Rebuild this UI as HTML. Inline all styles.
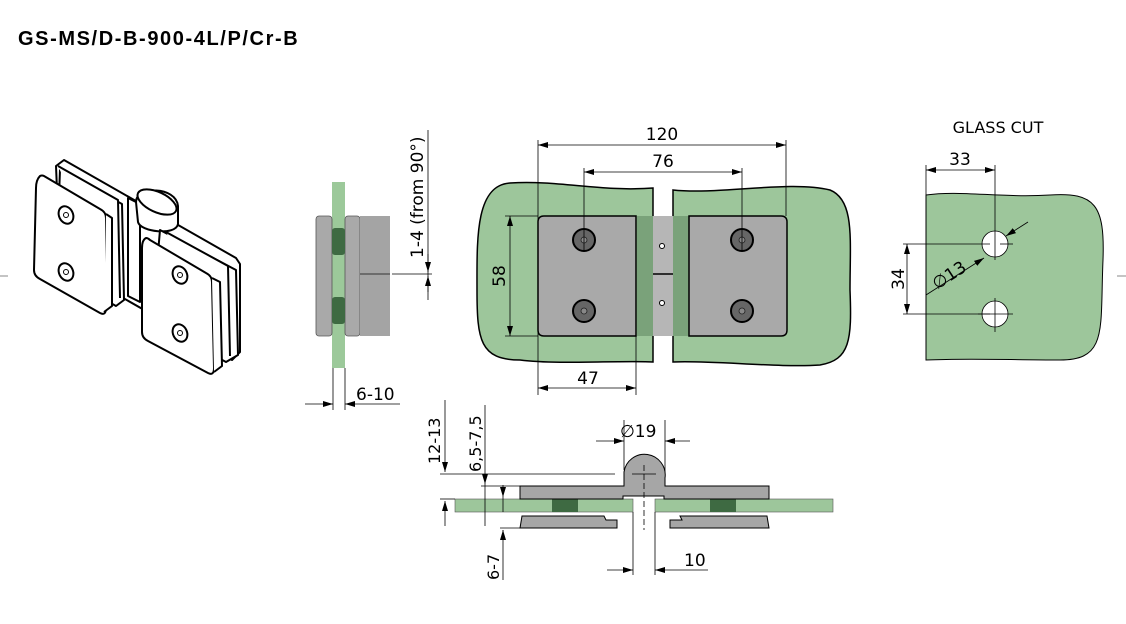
<!DOCTYPE html>
<html><head><meta charset="utf-8"><style>
html,body{margin:0;padding:0;background:#fff;}
svg{display:block;font-family:"DejaVu Sans","Liberation Sans",sans-serif;}
</style></head><body>
<svg width="1126" height="624" viewBox="0 0 1126 624" xmlns="http://www.w3.org/2000/svg">
<defs>
<marker id="a" viewBox="0 0 10 6" refX="10" refY="3" markerWidth="10" markerHeight="6" orient="auto-start-reverse" markerUnits="userSpaceOnUse"><path d="M0,0 L10,3 L0,6 z" fill="#000"/></marker>
</defs>
<text x="18" y="45" font-family="Liberation Sans, sans-serif" font-weight="bold" font-size="20" letter-spacing="1.6">GS-MS/D-B-900-4L/P/Cr-B</text>
<line x1="0" y1="276" x2="8" y2="276" stroke="#888" stroke-width="1"/>
<line x1="1117" y1="276" x2="1126" y2="276" stroke="#888" stroke-width="1"/>

<!-- isometric -->
<g fill="#fff" stroke="#000" stroke-width="2" stroke-linejoin="round">
<path d="M56,166 L64,160 L236,258 L240,264 L240,352 L232,360 L60,262 z"/>
<path d="M128,198 L140,204 L140,302 L128,296 z"/>
<path d="M136,202 C136,186 176,186 178,206 L178,224 C176,236 140,232 138,222 z"/>
<ellipse cx="157" cy="202" rx="21" ry="10" transform="rotate(25 157 202)"/>
<path d="M60,170 L122,204 L124,300 L116,306 L56,272 z"/>
<path d="M58,166 L118,200 L120,298"/>
<path d="M40,176 Q36,180 36,188 L34,270 Q34,276 40,279 L100,313 Q106,316 106,308 L106,218 Q106,212 100,209 L44,176 Q42,175 40,176 z"/>
<path d="M106,214 L112,218 L112,306 L104,312"/>
<path d="M160,230 L236,270 L238,355 L226,362 L152,322 z"/>
<path d="M166,232 L228,266 L230,356"/>
<path d="M146,238 Q142,240 142,248 L142,332 Q142,338 148,341 L208,373 Q214,376 214,368 L212,282 Q212,276 206,273 L150,240 Q148,238 146,238 z"/>
<path d="M212,278 L220,282 L222,366 L214,372"/>
<ellipse cx="66" cy="215" rx="7" ry="9" transform="rotate(-25 66 215)"/>
<ellipse cx="66" cy="272" rx="7" ry="9" transform="rotate(-25 66 272)"/>
<ellipse cx="180" cy="275" rx="7" ry="9" transform="rotate(-25 180 275)"/>
<ellipse cx="180" cy="333" rx="7" ry="9" transform="rotate(-25 180 333)"/>
</g>
<g fill="none" stroke="#000" stroke-width="1">
<circle cx="66" cy="215" r="2.5"/><circle cx="66" cy="272" r="2.5"/><circle cx="180" cy="275" r="2.5"/><circle cx="180" cy="333" r="2.5"/>
</g>

<!-- side view -->
<rect x="332" y="182" width="13" height="186" fill="#9cc99a"/>
<rect x="316" y="216" width="16" height="120" rx="3" fill="#a9a9a9" stroke="#555" stroke-width="0.8"/>
<rect x="345" y="216" width="15" height="120" rx="3" fill="#a9a9a9" stroke="#555" stroke-width="0.8"/>
<rect x="360" y="216" width="30" height="120" fill="#a4a4a4"/>
<line x1="360" y1="274" x2="390" y2="274" stroke="#333" stroke-width="1"/>
<rect x="332" y="228" width="13" height="27" rx="3" fill="#3e6a42"/>
<rect x="332" y="297" width="13" height="27" rx="3" fill="#3e6a42"/>
<g stroke="#000" stroke-width="0.8" fill="none">
<line x1="428" y1="130" x2="428" y2="300"/>
<line x1="392" y1="274" x2="432" y2="274"/>
<line x1="428" y1="254" x2="428" y2="272" marker-end="url(#a)"/>
<line x1="428" y1="292" x2="428" y2="276" marker-end="url(#a)"/>
<line x1="333" y1="368" x2="333" y2="410"/><line x1="345" y1="368" x2="345" y2="410"/>
<line x1="305" y1="404" x2="333" y2="404" marker-end="url(#a)"/>
<line x1="400" y1="404" x2="345" y2="404" marker-end="url(#a)"/>
</g>
<text x="423" y="258" font-size="17" transform="rotate(-90 423 258)">1-4 (from 90°)</text>
<text x="356" y="400" font-size="17">6-10</text>

<!-- top view -->
<path d="M653,217 L653,362 C620,360 560,365 520,360 C480,360 477,340 477,290 C477,240 475,185 510,183 C560,180 600,192 653,188 z" fill="#9dc69b" stroke="#000" stroke-width="1.5"/>
<path d="M673,217 L673,362 C710,360 780,368 820,365 C850,360 852,340 850,290 C850,240 855,200 830,190 C790,180 720,195 673,190 z" fill="#9dc69b" stroke="#000" stroke-width="1.5"/>
<rect x="637" y="216" width="52" height="120" fill="#7aa27a"/>
<rect x="653" y="216" width="20" height="120" fill="#b6b6b6"/>
<line x1="653" y1="274" x2="673" y2="274" stroke="#000" stroke-width="1.5"/>
<circle cx="662" cy="246" r="2.5" fill="#fff" stroke="#000"/>
<circle cx="662" cy="303" r="2.5" fill="#fff" stroke="#000"/>
<path d="M544,216 L636,216 L636,336 L544,336 Q538,336 538,330 L538,222 Q538,216 544,216 z" fill="#a9a9a9" stroke="#000" stroke-width="1.5"/>
<path d="M689,216 L781,216 Q787,216 787,222 L787,330 Q787,336 781,336 L689,336 z" fill="#a9a9a9" stroke="#000" stroke-width="1.5"/>
<g fill="#666" stroke="#000" stroke-width="2">
<circle cx="584" cy="240" r="11"/><circle cx="584" cy="311" r="11"/><circle cx="742" cy="240" r="11"/><circle cx="742" cy="311" r="11"/>
</g>
<g fill="#888" stroke="#222" stroke-width="0.8">
<circle cx="584" cy="240" r="3"/><circle cx="584" cy="311" r="3"/><circle cx="742" cy="240" r="3"/><circle cx="742" cy="311" r="3"/>
</g>
<g stroke="#000" stroke-width="0.8" fill="none">
<line x1="538" y1="140" x2="538" y2="395"/><line x1="786" y1="140" x2="786" y2="216"/>
<line x1="584" y1="168" x2="584" y2="250"/><line x1="742" y1="168" x2="742" y2="250"/>
<line x1="636" y1="336" x2="636" y2="395"/>
<line x1="505" y1="216" x2="538" y2="216"/><line x1="505" y1="336" x2="538" y2="336"/>
<line x1="538" y1="145" x2="786" y2="145" marker-start="url(#a)" marker-end="url(#a)"/>
<line x1="584" y1="172" x2="742" y2="172" marker-start="url(#a)" marker-end="url(#a)"/>
<line x1="510" y1="216" x2="510" y2="336" marker-start="url(#a)" marker-end="url(#a)"/>
<line x1="538" y1="388" x2="636" y2="388" marker-start="url(#a)" marker-end="url(#a)"/>
</g>
<text x="662" y="140" font-size="17" text-anchor="middle">120</text>
<text x="663" y="167" font-size="17" text-anchor="middle">76</text>
<text x="505" y="276" font-size="17" text-anchor="middle" transform="rotate(-90 505 276)">58</text>
<text x="588" y="384" font-size="17" text-anchor="middle">47</text>

<!-- glass cut -->
<text x="998" y="133" font-size="16" text-anchor="middle">GLASS CUT</text>
<path d="M926,195 C960,190 1000,198 1050,195 C1095,192 1105,205 1103,260 C1100,330 1108,360 1060,360 C1010,360 970,358 926,360 z" fill="#9dc69b" stroke="#000" stroke-width="1"/>
<circle cx="995" cy="244" r="13" fill="#fff" stroke="#000" stroke-width="0.8"/>
<circle cx="995" cy="314" r="13" fill="#fff" stroke="#000" stroke-width="0.8"/>
<g stroke="#000" stroke-width="0.8" fill="none">
<line x1="926" y1="165" x2="926" y2="195"/>
<line x1="995" y1="165" x2="995" y2="260"/>
<line x1="995" y1="298" x2="995" y2="332"/>
<line x1="978" y1="314" x2="1013" y2="314"/>
<line x1="1000" y1="244" x2="1013" y2="244"/>
<line x1="903" y1="244" x2="990" y2="244"/><line x1="903" y1="314" x2="990" y2="314"/>
<line x1="926" y1="170" x2="995" y2="170" marker-start="url(#a)" marker-end="url(#a)"/>
<line x1="907" y1="244" x2="907" y2="314" marker-start="url(#a)" marker-end="url(#a)"/>
<line x1="926" y1="295" x2="984" y2="258" marker-end="url(#a)"/>
<line x1="1028" y1="222" x2="1006" y2="236" marker-end="url(#a)"/>
</g>
<text x="960" y="165" font-size="17" text-anchor="middle">33</text>
<text x="904" y="279" font-size="17" text-anchor="middle" transform="rotate(-90 904 279)">34</text>
<text x="937" y="290" font-size="17" transform="rotate(-33 937 290)">∅13</text>

<!-- bottom section -->
<rect x="455" y="499" width="178" height="13" fill="#9dc69b" stroke="#555" stroke-width="0.6"/>
<rect x="655" y="499" width="178" height="13" fill="#9dc69b" stroke="#555" stroke-width="0.6"/>
<rect x="552" y="499" width="26" height="13" fill="#3e6a42"/>
<rect x="710" y="499" width="26" height="13" fill="#3e6a42"/>
<path d="M520,486 L624,486 L624,472 A20,20 0 1 1 665,478 L665,486 L769,486 L769,499 L664,499 L664,496 L623,496 L623,499 L520,499 z" fill="#a6a6a6" stroke="#000" stroke-width="1"/>
<path d="M522,516 L604,516 L606,520 L617,520 L617,528 L520,528 z" fill="#a6a6a6" stroke="#000" stroke-width="1"/>
<path d="M680,516 L767,516 L769,528 L670,528 L670,520 L682,520 z" fill="#a6a6a6" stroke="#000" stroke-width="1"/>
<g stroke="#000" stroke-width="0.8" fill="none">
<line x1="644" y1="465" x2="644" y2="530" stroke-dasharray="6,3"/>
<line x1="632" y1="474" x2="656" y2="474"/>
<line x1="624" y1="420" x2="624" y2="470"/><line x1="665" y1="420" x2="665" y2="472"/>
<line x1="596" y1="441" x2="624" y2="441" marker-end="url(#a)"/>
<line x1="690" y1="441" x2="665" y2="441" marker-end="url(#a)"/>
<line x1="440" y1="474" x2="615" y2="474"/>
<line x1="445" y1="400" x2="445" y2="472" marker-end="url(#a)"/>
<line x1="445" y1="526" x2="445" y2="501" marker-end="url(#a)"/>
<line x1="440" y1="499" x2="455" y2="499"/>
<line x1="485" y1="405" x2="485" y2="484" marker-end="url(#a)"/>
<line x1="485" y1="484" x2="485" y2="526"/>
<line x1="481" y1="486" x2="520" y2="486"/>
<line x1="503" y1="485" x2="503" y2="497" marker-end="url(#a)"/>
<line x1="503" y1="497" x2="503" y2="512"/>
<line x1="503" y1="540" x2="503" y2="530" marker-end="url(#a)"/>
<line x1="503" y1="530" x2="503" y2="580"/>
<line x1="500" y1="528" x2="520" y2="528"/>
<line x1="633" y1="512" x2="633" y2="575"/><line x1="655" y1="512" x2="655" y2="575"/>
<line x1="607" y1="570" x2="633" y2="570" marker-end="url(#a)"/>
<line x1="708" y1="570" x2="655" y2="570" marker-end="url(#a)"/>
</g>
<text x="620" y="437" font-size="17">∅19</text>
<text x="440" y="464" font-size="16" transform="rotate(-90 440 464)">12-13</text>
<text x="481" y="472" font-size="16" transform="rotate(-90 481 472)">6,5-7,5</text>
<text x="499" y="580" font-size="16" transform="rotate(-90 499 580)">6-7</text>
<text x="684" y="566" font-size="17">10</text>
</svg>
</body></html>
